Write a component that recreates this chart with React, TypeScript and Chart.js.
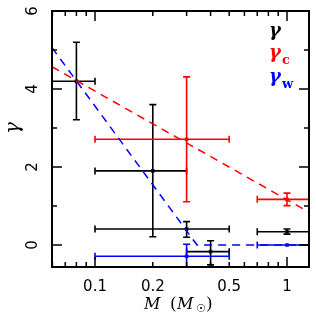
import React, { useEffect, useRef } from 'react';
import { Chart, registerables } from 'chart.js';
Chart.register(...registerables);

// gamma (black)
const blackX = [0.08, 0.2, 0.3, 0.4, 1.0];
const blackY = [4.2, 1.9, 0.41, -0.17, 0.34];
const blackYLo = [3.21, 0.21, 0.2, -0.51, 0.28];
const blackYHi = [5.2, 3.6, 0.6, 0.11, 0.41];
const blackXLo = [0.05, 0.1, 0.1, 0.3, 0.7];
const blackXHi = [0.1, 0.3, 0.5, 0.5, 1.5];

// gamma_c (red)
const redX = [0.3, 1.0];
const redY = [2.71, 1.17];
const redYLo = [1.11, 1.01];
const redYHi = [4.31, 1.33];
const redXLo = [0.1, 0.7];
const redXHi = [0.5, 1.5];

// gamma_w (blue)
const blueX = [0.3, 1.0];
const blueY = [-0.29, 0.0];
const blueYLo = [-0.9, 0.0];
const blueYHi = [0.02, 0.0];
const blueXLo = [0.1, 0.7];
const blueXHi = [0.5, 1.5];

// dashed fits
const redFitX = [0.0597, 1.302];
const redFitY = [4.57, 0.84];
const blueFitX = [0.0597, 0.34, 1.302];
const blueFitY = [5.06, 0.0, 0.0];

const xTickLabels = [0.1, 0.2, 0.5, 1];
const yTickLabels = [0, 2, 4, 6];

const BLACK = '#000000';
const RED = '#ff0000';
const BLUE = '#0000ff';

const series = [
  { x: blackX, y: blackY, ylo: blackYLo, yhi: blackYHi, xlo: blackXLo, xhi: blackXHi, color: BLACK },
  { x: redX, y: redY, ylo: redYLo, yhi: redYHi, xlo: redXLo, xhi: redXHi, color: RED },
  { x: blueX, y: blueY, ylo: blueYLo, yhi: blueYHi, xlo: blueXLo, xhi: blueXHi, color: BLUE },
];

const zip = (xs: number[], ys: number[]) => xs.map((x, i) => ({ x, y: ys[i] }));

const decorPlugin = {
  id: 'decor',
  beforeDatasetsDraw(chart: any) {
    const { ctx, chartArea: a, scales } = chart;
    const xs = scales.x, ys = scales.y;
    ctx.save();
    ctx.beginPath();
    ctx.rect(a.left, a.top, a.right - a.left, a.bottom - a.top);
    ctx.clip();
    ctx.lineWidth = 1.6;
    const cap = 3.5;
    for (const s of series) {
      ctx.strokeStyle = s.color;
      for (let i = 0; i < s.x.length; i++) {
        const px = xs.getPixelForValue(s.x[i]);
        const py = ys.getPixelForValue(s.y[i]);
        const x0 = xs.getPixelForValue(s.xlo[i]);
        const x1 = xs.getPixelForValue(s.xhi[i]);
        ctx.beginPath();
        ctx.moveTo(x0, py); ctx.lineTo(x1, py);
        ctx.moveTo(x0, py - cap); ctx.lineTo(x0, py + cap);
        ctx.moveTo(x1, py - cap); ctx.lineTo(x1, py + cap);
        if (s.ylo[i] !== s.yhi[i]) {
          const y0 = ys.getPixelForValue(s.ylo[i]);
          const y1 = ys.getPixelForValue(s.yhi[i]);
          ctx.moveTo(px, y0); ctx.lineTo(px, y1);
          ctx.moveTo(px - cap, y0); ctx.lineTo(px + cap, y0);
          ctx.moveTo(px - cap, y1); ctx.lineTo(px + cap, y1);
        }
        ctx.stroke();
      }
    }
    ctx.restore();
  },
  afterDraw(chart: any) {
    const { ctx, chartArea: a, scales } = chart;
    const xs = scales.x, ys = scales.y;
    ctx.save();
    ctx.strokeStyle = '#000';
    ctx.lineWidth = 1.5;
    // ticks
    ctx.beginPath();
    for (let v = 0; v <= 6; v++) {
      const py = ys.getPixelForValue(v);
      const len = v % 2 === 0 ? 10 : 5;
      ctx.moveTo(a.left, py); ctx.lineTo(a.left + len, py);
      ctx.moveTo(a.right, py); ctx.lineTo(a.right - len, py);
    }
    const decades = [0.01, 0.1, 1];
    for (const d of decades) {
      for (let m = 1; m <= 9; m++) {
        const v = d * m;
        if (v < xs.min || v > xs.max) continue;
        const px = xs.getPixelForValue(v);
        const len = m === 1 ? 10 : 5;
        ctx.moveTo(px, a.bottom); ctx.lineTo(px, a.bottom - len);
        ctx.moveTo(px, a.top); ctx.lineTo(px, a.top + len);
      }
    }
    ctx.stroke();
    // frame
    ctx.lineWidth = 2;
    ctx.strokeRect(a.left, a.top, a.right - a.left, a.bottom - a.top);

    // tick labels
    ctx.fillStyle = '#000';
    ctx.font = "15px 'DejaVu Sans'";
    ctx.textAlign = 'center';
    ctx.textBaseline = 'middle';
    for (const v of xTickLabels) {
      ctx.fillText(String(v), xs.getPixelForValue(v), 287);
    }
    for (const v of yTickLabels) {
      ctx.save();
      ctx.translate(33, ys.getPixelForValue(v));
      ctx.rotate(-Math.PI / 2);
      ctx.fillText(String(v), 0, 0);
      ctx.restore();
    }
    // y title
    ctx.save();
    ctx.translate(14, 128);
    ctx.rotate(-Math.PI / 2);
    ctx.font = "italic 20px 'DejaVu Serif'";
    ctx.fillText('γ', 0, 0);
    ctx.restore();

    // x title: M (M_sun)
    ctx.textAlign = 'left';
    ctx.textBaseline = 'alphabetic';
    const base = 309;
    ctx.font = "italic 16px 'DejaVu Serif'";
    ctx.fillText('M', 144, base);
    ctx.font = "17px 'DejaVu Serif'";
    ctx.fillText('(', 170, base);
    ctx.font = "italic 16px 'DejaVu Serif'";
    ctx.fillText('M', 177, base);
    ctx.font = "11px 'DejaVu Sans'";
    ctx.fillText('☉', 196, base + 3);
    ctx.font = "17px 'DejaVu Serif'";
    ctx.fillText(')', 206, base);

    // legend
    const leg = [
      { sub: '', color: BLACK, y: 36 },
      { sub: 'c', color: RED, y: 58 },
      { sub: 'w', color: BLUE, y: 82 },
    ];
    for (const l of leg) {
      ctx.fillStyle = l.color;
      ctx.font = "bold italic 18px 'DejaVu Serif'";
      ctx.fillText('γ', 269, l.y);
      const w = ctx.measureText('γ').width;
      if (l.sub) {
        ctx.font = "bold 13px 'DejaVu Serif'";
        ctx.fillText(l.sub, 269 + w + 1, l.y + 6);
      }
    }
    ctx.restore();
  },
};

export default function App() {
  const ref = useRef<HTMLCanvasElement>(null);
  useEffect(() => {
    document.body.style.margin = '0';
    const canvas = ref.current!;
    const chart = new Chart(canvas, {
      type: 'scatter',
      data: {
        datasets: [
          {
            data: zip(redFitX, redFitY), showLine: true, borderColor: RED, borderWidth: 1.5,
            borderDash: [8, 6], pointRadius: 0, fill: false,
          },
          {
            data: zip(blueFitX, blueFitY), showLine: true, borderColor: BLUE, borderWidth: 1.5,
            borderDash: [8, 6], pointRadius: 0, fill: false,
          },
          {
            data: zip(blackX, blackY), pointStyle: 'rect', pointRadius: 2.5,
            backgroundColor: BLACK, borderColor: BLACK, borderWidth: 0,
          },
          {
            data: zip(redX, redY), pointStyle: 'rect', pointRadius: 2.5,
            backgroundColor: RED, borderColor: RED, borderWidth: 0,
          },
          {
            data: zip(blueX, blueY), pointStyle: 'rect', pointRadius: 2.5,
            backgroundColor: BLUE, borderColor: BLUE, borderWidth: 0,
          },
        ],
      },
      options: {
        animation: false,
        responsive: false,
        devicePixelRatio: 1,
        layout: { padding: { left: 52, top: 11, right: 7, bottom: 56 } },
        plugins: { legend: { display: false }, tooltip: { enabled: false } },
        scales: {
          x: { type: 'logarithmic', min: 0.0597, max: 1.302, display: false },
          y: { type: 'linear', min: -0.564, max: 6, display: false },
        },
      },
      plugins: [decorPlugin],
    });
    return () => chart.destroy();
  }, []);
  return <canvas ref={ref} width={316} height={323} style={{ display: 'block' }} />;
}
